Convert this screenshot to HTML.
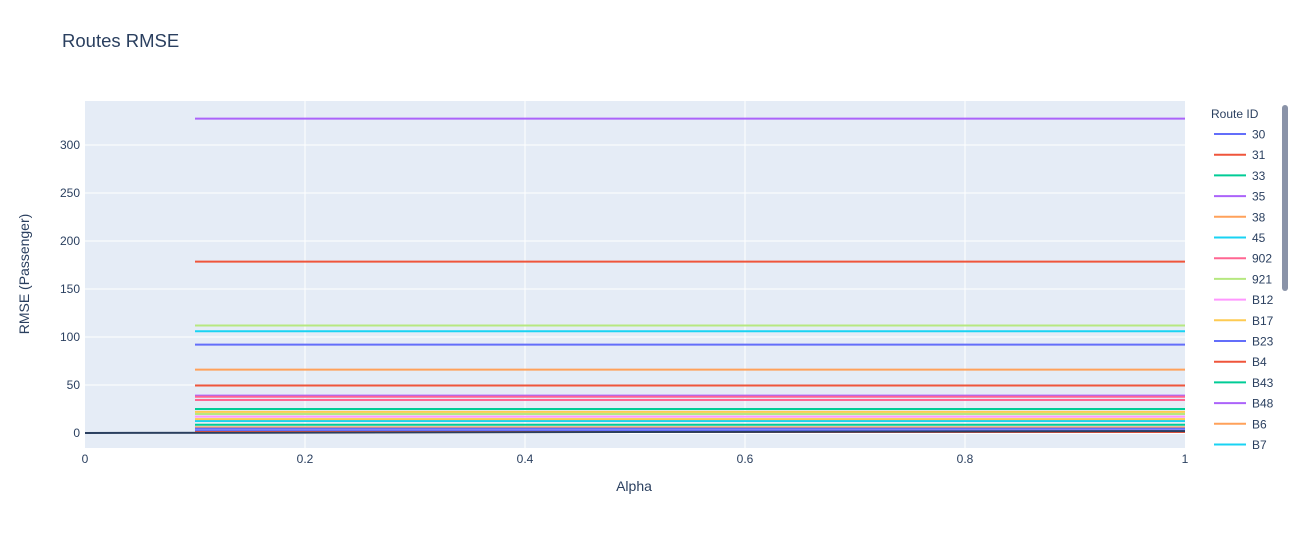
<!DOCTYPE html>
<html><head><meta charset="utf-8"><style>
body{margin:0;background:#fff;font-family:"Liberation Sans",sans-serif}
svg text{font-family:"Liberation Sans",sans-serif;fill:#2a3f5f}
</style></head><body>
<svg id="chart" width="1291" height="528">
<text x="62" y="47" font-size="18.5">Routes RMSE</text>
<rect x="85" y="101" width="1100" height="347" fill="#e5ecf6"/>
<g id="grid"></g><g id="series"></g><g id="legend"></g>
<text x="634" y="491" font-size="14" text-anchor="middle">Alpha</text>
<text transform="translate(29,274) rotate(-90)" font-size="14" text-anchor="middle">RMSE (Passenger)</text>
<rect x="1282" y="105" width="6" height="186" rx="3" fill="#8a93a8"/>
</svg>
<script>
const routes=["30","31","33","35","38","45","902","921","B12","B17","B23","B4","B43","B48","B6","B7","B8","B9","B11","B13","B15","Q1"];
const rmse=[92,49.5,25,327.5,66,106,34.4,112,1.5,22,2.4,178.5,8.6,38.9,5.9,12.5,37.8,19.8,17,14.5,4.5,1];
const colors=["#636efa","#EF553B","#00cc96","#ab63fa","#FFA15A","#19d3f3","#FF6692","#B6E880","#FF97FF","#FECB52"];
const xTicks=[0,0.2,0.4,0.6,0.8,1];
const yTicks=[0,50,100,150,200,250,300];
const alphaStart=0.1, alphaEnd=1;
const baseline=[0,2];
const NS="http://www.w3.org/2000/svg";
const X=v=>85+1100*v, Y=v=>433-0.96*v;
function mk(t,a,p){const e=document.createElementNS(NS,t);for(const k in a)e.setAttribute(k,a[k]);p.appendChild(e);return e;}
const grid=document.getElementById('grid'),svg=document.getElementById('chart');
xTicks.forEach(t=>{
 if(t>0&&t<1){const l=mk('line',{x1:X(t),x2:X(t),y1:101,y2:448,stroke:'#fff','stroke-width':1},grid);
 
 }
 const tx=mk('text',{x:X(t),y:463,'font-size':12,'text-anchor':'middle'},svg);tx.textContent=String(t);
 
 
});
yTicks.forEach(t=>{
 const l=mk('line',{x1:85,x2:1185,y1:Y(t),y2:Y(t),stroke:'#fff','stroke-width':t===0?2:1},grid);
 
 
 const tx=mk('text',{x:80,y:Y(t)+4,'font-size':12,'text-anchor':'end'},svg);tx.textContent=String(t);
 
 
});
const ser=document.getElementById('series');
routes.forEach((r,i)=>{
 const l=mk('line',{x1:X(alphaStart),x2:X(alphaEnd),y1:Y(rmse[i]),y2:Y(rmse[i]),stroke:colors[i%10],'stroke-width':2},ser);
 
 
});
const bl=mk('line',{x1:X(0),x2:X(1),y1:Y(baseline[0]),y2:Y(baseline[1]),stroke:'#2a3f5f','stroke-width':2},ser);


const lg=document.getElementById('legend');
const lt=mk('text',{x:1211,y:118,'font-size':12},lg);lt.textContent='Route ID';


routes.slice(0,16).forEach((r,i)=>{
 const y=134+20.7*i;
 const g=mk('g',{},lg);
 
 
 mk('line',{x1:1214,x2:1246,y1:y,y2:y,stroke:colors[i%10],'stroke-width':2},g);
 const t=mk('text',{x:1252,y:y+4.5,'font-size':12},g);t.textContent=r;
});
</script>
</body></html>
